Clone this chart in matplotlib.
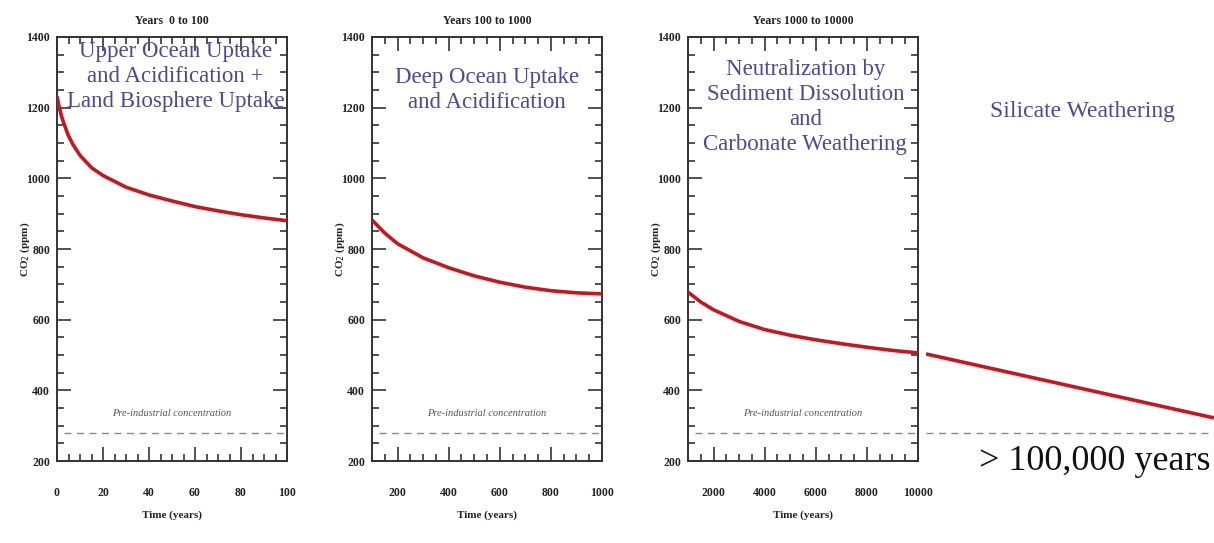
import numpy as np
import matplotlib
matplotlib.use('Agg')
from matplotlib import pyplot as plt
from matplotlib.ticker import MultipleLocator

plt.rcParams['font.family'] = ['Liberation Serif', 'DejaVu Serif']

# CO2 decline
t1 = [0, 1, 2, 3, 5, 7, 10, 15, 20, 30, 40, 50, 60, 70, 80, 90, 100]
co2_1 = [1232, 1200, 1175, 1155, 1120, 1095, 1065, 1030, 1008, 975, 953, 936, 920, 908, 897, 888, 880]

t2 = [100, 150, 200, 300, 400, 500, 600, 700, 800, 900, 1000]
co2_2 = [882, 845, 815, 775, 747, 724, 706, 692, 682, 676, 673]

t3 = [1000, 1500, 2000, 3000, 4000, 5000, 6000, 7000, 8000, 9000, 10000]
co2_3 = [678, 650, 628, 595, 572, 556, 543, 532, 522, 513, 506]

# long tail beyond 10000 years (no scale)
t4 = [0.0, 1.0]
co2_4 = [503, 322]

pre_industrial = 280

titles = ['Years  0 to 100', 'Years 100 to 1000', 'Years 1000 to 10000']
notes = ['Upper Ocean Uptake\nand Acidification +\nLand Biosphere Uptake',
         'Deep Ocean Uptake\nand Acidification',
         'Neutralization by\nSediment Dissolution\nand\nCarbonate Weathering']

W, H = 1214, 543
fig = plt.figure(figsize=(W / 100, H / 100), dpi=100)

lefts = [57, 372, 688]
xs = [t1, t2, t3]
ys = [co2_1, co2_2, co2_3]
xlims = [(0, 100), (100, 1000), (1000, 10000)]
majors = [20, 200, 2000]
minors = [5, 50, 500]
note_pos = [(0.515, 0.99), (0.5, 0.93), (0.51, 0.948)]
red = '#c8161d'
blue = '#4a4a9c'

for i in range(3):
    ax = fig.add_axes([lefts[i] / W, (H - 461) / H, 230 / W, 424 / H])
    ax.plot(xs[i], ys[i], color=red, lw=2.6, solid_capstyle='butt', zorder=3)
    ax.axhline(pre_industrial, xmin=0.03, xmax=1, color='#888888', lw=1, ls=(0, (5, 4)))
    ax.text(0.5, 335, 'Pre-industrial concentration', transform=ax.get_yaxis_transform(),
            ha='center', va='center', style='italic', fontsize=7.5, color='#555555')
    ax.text(note_pos[i][0], note_pos[i][1], notes[i], transform=ax.transAxes,
            ha='center', va='top', fontsize=16.5, color=blue, linespacing=1.25, zorder=4)
    ax.set_xlim(*xlims[i])
    ax.set_ylim(200, 1400)
    ax.xaxis.set_major_locator(MultipleLocator(majors[i]))
    ax.xaxis.set_minor_locator(MultipleLocator(minors[i]))
    ax.yaxis.set_major_locator(MultipleLocator(200))
    ax.yaxis.set_minor_locator(MultipleLocator(50))
    ax.tick_params(which='both', direction='in', top=True, right=True, width=1.2, colors='#333333')
    ax.tick_params(which='major', length=10)
    ax.tick_params(which='minor', length=5)
    ax.tick_params(axis='x', which='major', pad=19, labelsize=8.5)
    ax.tick_params(axis='y', which='major', pad=5, labelsize=8.5)
    for lab in ax.get_xticklabels() + ax.get_yticklabels():
        lab.set_fontweight('bold')
        lab.set_color('#222222')
    for s in ax.spines.values():
        s.set_linewidth(1.4)
        s.set_color('#333333')
    ax.set_title(titles[i], fontsize=8.5, fontweight='bold', pad=9, color='#222222')
    ax.set_xlabel('Time (years)', fontsize=8, fontweight='bold', labelpad=8, color='#222222')
    ax.set_ylabel('CO$_2$ (ppm)', fontsize=8, fontweight='bold', color='#222222')
    ax.yaxis.set_label_coords(-0.11, 0.5)

# tail panel, no frame
ax4 = fig.add_axes([926 / W, (H - 461) / H, (W - 926) / W, 424 / H])
ax4.plot(t4, co2_4, color=red, lw=2.6, solid_capstyle='butt')
ax4.axhline(pre_industrial, color='#888888', lw=1, ls=(0, (5, 4)))
ax4.set_xlim(0, 1)
ax4.set_ylim(200, 1400)
ax4.axis('off')

fig.text(1083 / W, (H - 112) / H, 'Silicate Weathering', ha='center', va='center',
         fontsize=17, color=blue)
fig.text(1095 / W, (H - 462) / H, '> 100,000 years', ha='center', va='center',
         fontsize=26, color='#111111')

fig.savefig('out.png', dpi=100)
